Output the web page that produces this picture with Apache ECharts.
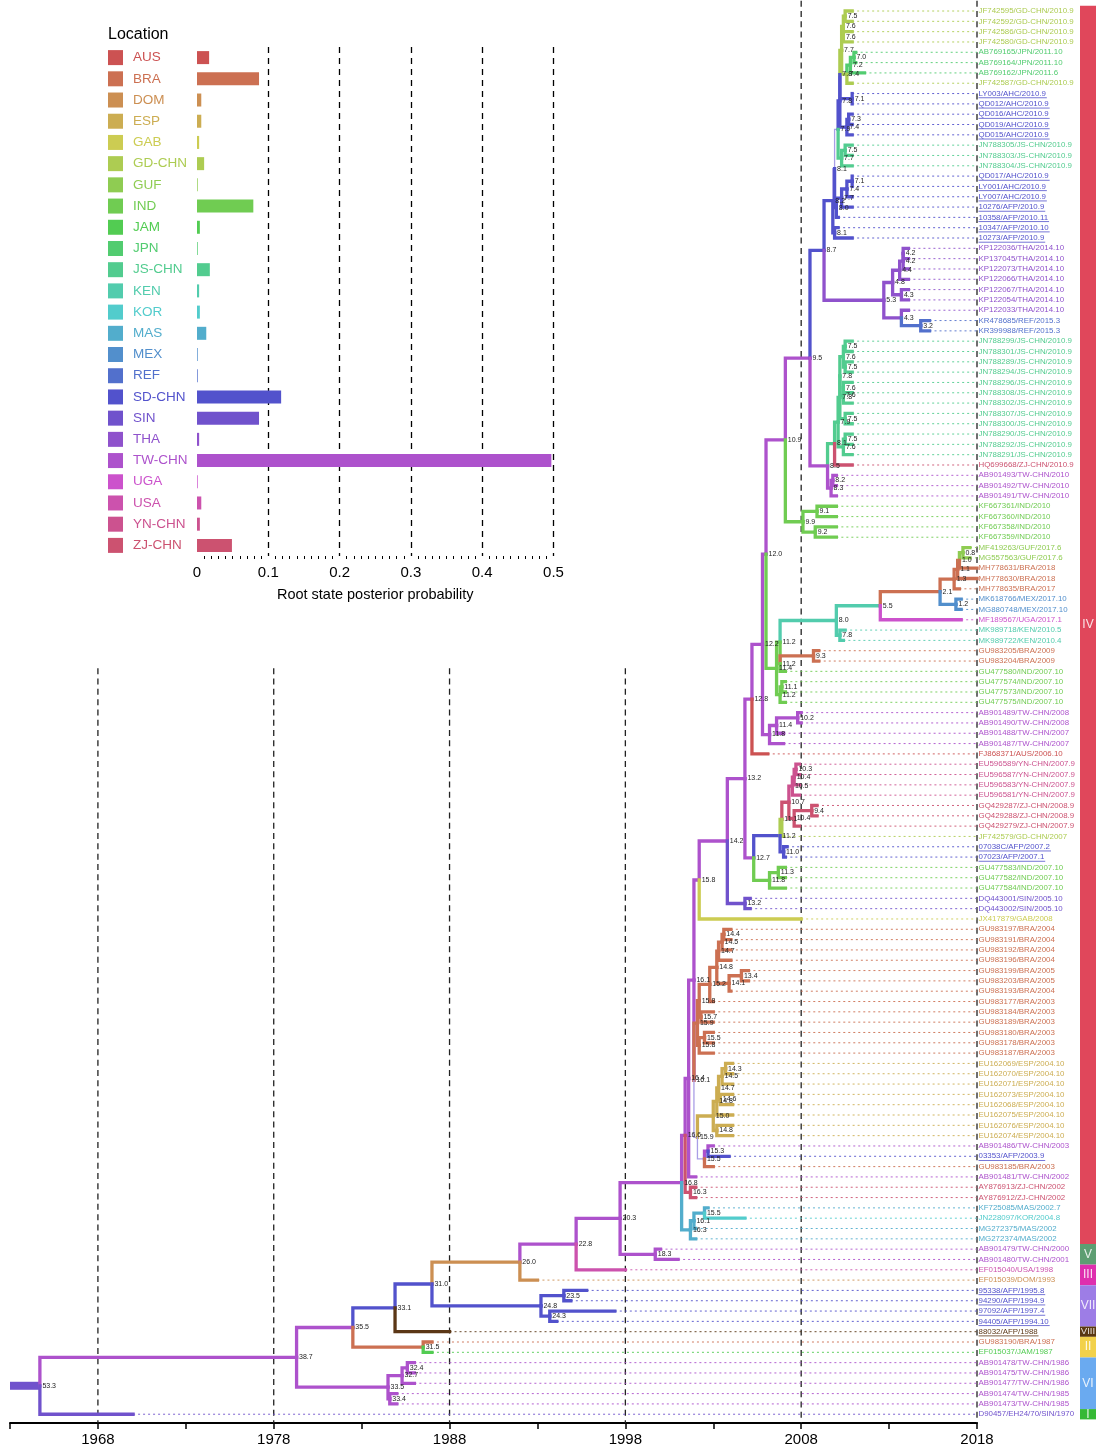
<!DOCTYPE html>
<html>
<head>
<meta charset="utf-8">
<script src="https://cdn.jsdelivr.net/npm/echarts@6/dist/echarts.min.js"></script>
<style>
html,body{margin:0;padding:0;background:#fff}
#chart{width:1098px;height:1452px}
</style>
</head>
<body>
<div id="chart"></div>
<script>
// ---- data ----
var locations = ['AUS','BRA','DOM','ESP','GAB','GD-CHN','GUF','IND','JAM','JPN','JS-CHN','KEN',
  'KOR','MAS','MEX','REF','SD-CHN','SIN','THA','TW-CHN','UGA','USA','YN-CHN','ZJ-CHN'];
var rootProb = [0.017,0.087,0.006,0.006,0.003,0.010,0.001,0.079,0.004,0.001,0.018,0.003,
  0.004,0.013,0.001,0.001,0.118,0.087,0.003,0.497,0.001,0.006,0.004,0.049];

var tipNames = [
  'JF742595/GD-CHN/2010.9','JF742592/GD-CHN/2010.9','JF742586/GD-CHN/2010.9','JF742580/GD-CHN/2010.9',
  'AB769165/JPN/2011.10','AB769164/JPN/2011.10','AB769162/JPN/2011.6','JF742587/GD-CHN/2010.9',
  'LY003/AHC/2010.9','QD012/AHC/2010.9','QD016/AHC/2010.9','QD019/AHC/2010.9','QD015/AHC/2010.9',
  'JN788305/JS-CHN/2010.9','JN788303/JS-CHN/2010.9','JN788304/JS-CHN/2010.9',
  'QD017/AHC/2010.9','LY001/AHC/2010.9','LY007/AHC/2010.9','10276/AFP/2010.9','10358/AFP/2010.11',
  '10347/AFP/2010.10','10273/AFP/2010.9',
  'KP122036/THA/2014.10','KP137045/THA/2014.10','KP122073/THA/2014.10','KP122066/THA/2014.10',
  'KP122067/THA/2014.10','KP122054/THA/2014.10','KP122033/THA/2014.10','KR478685/REF/2015.3','KR399988/REF/2015.3',
  'JN788299/JS-CHN/2010.9','JN788301/JS-CHN/2010.9','JN788289/JS-CHN/2010.9','JN788294/JS-CHN/2010.9',
  'JN788296/JS-CHN/2010.9','JN788308/JS-CHN/2010.9','JN788302/JS-CHN/2010.9','JN788307/JS-CHN/2010.9',
  'JN788300/JS-CHN/2010.9','JN788290/JS-CHN/2010.9','JN788292/JS-CHN/2010.9','JN788291/JS-CHN/2010.9',
  'HQ699668/ZJ-CHN/2010.9','AB901493/TW-CHN/2010','AB901492/TW-CHN/2010','AB901491/TW-CHN/2010',
  'KF667361/IND/2010','KF667360/IND/2010','KF667358/IND/2010','KF667359/IND/2010',
  'MF419263/GUF/2017.6','MG557563/GUF/2017.6','MH778631/BRA/2018','MH778630/BRA/2018','MH778635/BRA/2017',
  'MK618766/MEX/2017.10','MG880748/MEX/2017.10','MF189567/UGA/2017.1','MK989718/KEN/2010.5','MK989722/KEN/2010.4',
  'GU983205/BRA/2009','GU983204/BRA/2009','GU477580/IND/2007.10','GU477574/IND/2007.10',
  'GU477573/IND/2007.10','GU477575/IND/2007.10','AB901489/TW-CHN/2008','AB901490/TW-CHN/2008',
  'AB901488/TW-CHN/2007','AB901487/TW-CHN/2007','FJ868371/AUS/2006.10',
  'EU596589/YN-CHN/2007.9','EU596587/YN-CHN/2007.9','EU596583/YN-CHN/2007.9','EU596581/YN-CHN/2007.9',
  'GQ429287/ZJ-CHN/2008.9','GQ429288/ZJ-CHN/2008.9','GQ429279/ZJ-CHN/2007.9','JF742579/GD-CHN/2007',
  '07038C/AFP/2007.2','07023/AFP/2007.1','GU477583/IND/2007.10','GU477582/IND/2007.10','GU477584/IND/2007.10',
  'DQ443001/SIN/2005.10','DQ443002/SIN/2005.10','JX417879/GAB/2008',
  'GU983197/BRA/2004','GU983191/BRA/2004','GU983192/BRA/2004','GU983196/BRA/2004','GU983199/BRA/2005',
  'GU983203/BRA/2005','GU983193/BRA/2004','GU983177/BRA/2003','GU983184/BRA/2003','GU983189/BRA/2003',
  'GU983180/BRA/2003','GU983178/BRA/2003','GU983187/BRA/2003',
  'EU162069/ESP/2004.10','EU162070/ESP/2004.10','EU162071/ESP/2004.10','EU162073/ESP/2004.10',
  'EU162068/ESP/2004.10','EU162075/ESP/2004.10','EU162076/ESP/2004.10','EU162074/ESP/2004.10',
  'AB901486/TW-CHN/2003','03353/AFP/2003.9','GU983185/BRA/2003','AB901481/TW-CHN/2002',
  'AY876913/ZJ-CHN/2002','AY876912/ZJ-CHN/2002','KF725085/MAS/2002.7','JN228097/KOR/2004.8',
  'MG272375/MAS/2002','MG272374/MAS/2002','AB901479/TW-CHN/2000','AB901480/TW-CHN/2001',
  'EF015040/USA/1998','EF015039/DOM/1993','95338/AFP/1995.8','94290/AFP/1994.9','97092/AFP/1997.4',
  '94405/AFP/1994.10','88032/AFP/1988','GU983190/BRA/1987','EF015037/JAM/1987',
  'AB901478/TW-CHN/1986','AB901475/TW-CHN/1986','AB901477/TW-CHN/1986','AB901474/TW-CHN/1985',
  'AB901473/TW-CHN/1985','D90457/EH24/70/SIN/1970'
];

// tree: tips are row numbers, internal nodes are (a,b)age:STATE
var cladeGdJpn = '(((1,2)7.5:GD-CHN,(3,4)7.6:GD-CHN)7.6:GD-CHN,(((5,6)7.0:JPN,7)7.2:JPN,8)7.4:GD-CHN)7.7:GD-CHN';
var cladeNorth = '((((({GDJPN},(9,10)7.1:SD-CHN)7.8:SD-CHN,((11,12)7.3:SD-CHN,13)7.4:SD-CHN)7.8:SD-CHN,' +
  '((14,15)7.5:JS-CHN,16)7.7:JS-CHN)7.9:UNC,((((17,18)7.1:SD-CHN,19)7.4:SD-CHN,20)7.7:SD-CHN,21)8.0:SD-CHN)8.1:UNC,' +
  '(22,23)8.1:SD-CHN)8.2:SD-CHN';
var cladeTha = '(((((24,25)4.2:THA,26)4.2:THA,27)4.4:THA,(28,29)4.3:THA)4.8:THA,(30,(31,32)3.2:REF)4.3:THA)5.3:THA';
var cladeJs = '((((((33,34)7.5:JS-CHN,(35,36)7.5:JS-CHN)7.6:JS-CHN,((37,38)7.6:JS-CHN,39)7.6:JS-CHN)7.8:JS-CHN,' +
  '(40,41)7.5:JS-CHN)7.8:JS-CHN,((42,43)7.5:JS-CHN,44)7.6:JS-CHN)7.9:JS-CHN,45)8.1:JS-CHN';
var cladeAmerica = '(((((((53,54)0.8:GUF,55)1.0:BRA,56)1.1:BRA,57)1.3:BRA,(58,59)1.2:MEX)2.1:BRA,60)5.5:KEN,(61,62)7.8:KEN)8.0:KEN';
var cladeYnZj = '((((74,75)10.3:YN-CHN,76)10.4:YN-CHN,77)10.5:YN-CHN,((78,79)9.4:ZJ-CHN,80)10.4:ZJ-CHN)10.7:ZJ-CHN';
var cladeBra = '(((((((90,91)14.4:BRA,92)14.5:BRA,93)14.7:BRA,((94,95)13.4:BRA,96)14.1:BRA)14.8:BRA,97)15.2:BRA,' +
  '(98,99)15.7:BRA)15.8:BRA,((100,101)15.5:BRA,102)15.8:BRA)15.9:BRA';
var cladeEsp = '(((((103,104)14.3:ESP,105)14.5:ESP,(106,107)14.6:ESP)14.7:ESP,108)14.8:ESP,(109,110)14.8:ESP)15.0:ESP';
var cladeMas = '(((117,118)15.5:MAS,119)16.1:MAS,120)16.3:MAS';
var cladeAfp = '((125,126)23.5:SD-CHN,(127,128)24.3:SD-CHN)24.8:SD-CHN';
var cladeTw86 = '(((132,133)32.4:TW-CHN,134)32.7:TW-CHN,(135,136)33.4:TW-CHN)33.5:TW-CHN';
var stem95 = '(({NORTH},{THA})8.7:SD-CHN,({JS},((46,47)8.2:TW-CHN,48)8.3:TW-CHN)8.5:TW-CHN)9.5:TW-CHN';
var stem120 = '(({STEM95},((49,50)9.1:IND,(51,52)9.2:IND)9.9:IND)10.9:TW-CHN,(({AMERICA},((63,64)9.3:BRA,65)11.2:IND)11.2:IND,' +
  '((66,67)11.1:IND,68)11.2:IND)11.4:IND)12.0:TW-CHN';
var stem158 = '((((({STEM120},(((69,70)10.2:TW-CHN,71)11.4:TW-CHN,72)11.8:TW-CHN)12.2:TW-CHN,73)12.8:TW-CHN,' +
  '((({YNZJ},81)11.1:GD-CHN,(82,83)11.0:SD-CHN)11.2:SD-CHN,((84,85)11.3:IND,86)11.8:IND)12.7:TW-CHN)13.2:TW-CHN,' +
  '(87,88)13.2:SIN)14.2:TW-CHN,89)15.8:TW-CHN';
var stem168 = '(((({STEM158},({BRA},({ESP},((111,112)15.3:TW-CHN,113)15.5:UNC)15.9:UNC)16.1:TW-CHN)16.1:TW-CHN,114)16.4:TW-CHN,' +
  '(115,116)16.3:ZJ-CHN)16.6:TW-CHN,{MAS})16.8:TW-CHN';
var treeNewick = '(((((((({STEM168},(121,122)18.3:TW-CHN)20.3:TW-CHN,123)22.8:TW-CHN,124)26.0:DOM,{AFP})31.0:SD-CHN,' +
  '129)33.1:SD-CHN,(130,131)31.5:BRA)35.5:TW-CHN,{TW86})38.7:TW-CHN,137)53.3:SIN';

var genotypes = ['IV','V','III','VII','VIII','II','VI','I'];
var genotypeFirstTip = [1,121,123,125,129,130,132,137];
var genotypeLastTip = [120,122,124,128,129,131,136,137];

var timeTicks = [1963,1968,1973,1978,1983,1988,1993,1998,2003,2008,2013,2018];
var timeLabels = [1968,1978,1988,1998,2008,2018];
var guideYears = [1968,1978,1988,1998,2008,2018];

// ---- styles ----
var FONT = '"Liberation Sans", Arial, Helvetica, sans-serif';
var locationAlias = {AHC: 'SD-CHN', AFP: 'SD-CHN'};
var tipColorOverride = {'88032/AFP/1988': '#5b3716'};
var uncColor = '#a99ee6';
var genotypeColors = ['#e0475b','#5d9e72','#de2fae','#9d7de6','#5a3813','#f2d14b','#6aaaf0','#35b935'];

function hsvHex(h, s, v) {
  function f(n) { var k = (n + h / 60) % 6; return v - v * s * Math.max(0, Math.min(k, 4 - k, 1)); }
  function hx(c) { var t = Math.round(c * 255).toString(16); return t.length < 2 ? '0' + t : t; }
  return '#' + hx(f(5)) + hx(f(3)) + hx(f(1));
}
var locColors = locations.map(function (l, i) { return hsvHex(i * 15, 0.6, 0.8); });

function stateColor(s) {
  if (s === 'UNC') return uncColor;
  return locColors[locations.indexOf(s)];
}
function rawLoc(name) { var p = name.split('/'); return p[p.length - 2]; }
function tipColor(i) {
  var name = tipNames[i - 1];
  if (tipColorOverride[name]) return tipColorOverride[name];
  var l = rawLoc(name);
  return stateColor(locationAlias[l] || l);
}
var tipDate = tipNames.map(function (n) { return parseFloat(n.split('/').pop()); });
var present = Math.max.apply(null, tipDate);

// ---- tree ----
var newick = treeNewick;
var parts = {STEM168: stem168, STEM158: stem158, STEM120: stem120, STEM95: stem95, NORTH: cladeNorth,
  GDJPN: cladeGdJpn, THA: cladeTha, JS: cladeJs, AMERICA: cladeAmerica, YNZJ: cladeYnZj, BRA: cladeBra,
  ESP: cladeEsp, MAS: cladeMas, AFP: cladeAfp, TW86: cladeTw86};
while (newick.indexOf('{') >= 0) {
  newick = newick.replace(/\{([A-Z0-9]+)\}/g, function (m, k) { return parts[k]; });
}

function parseNewick(s) {
  var pos = 0;
  function node() {
    if (s[pos] === '(') {
      pos++;
      var kids = [node()];
      while (s[pos] === ',') { pos++; kids.push(node()); }
      pos++;
      var m = /^([0-9.]+):([A-Z-]+)/.exec(s.slice(pos));
      pos += m[0].length;
      return {kids: kids, age: +m[1], state: m[2]};
    }
    var t = /^\d+/.exec(s.slice(pos));
    pos += t[0].length;
    return {tip: +t[0]};
  }
  return node();
}
var root = parseNewick(newick);

function layout(n) {
  if (n.tip) { n.x = tipDate[n.tip - 1]; n.y = n.tip; return; }
  n.kids.forEach(layout);
  n.x = present - n.age;
  n.y = (n.kids[0].y + n.kids[n.kids.length - 1].y) / 2;
}
layout(root);

var branches = [];
var nodeLabels = [];
branches.push({px: timeTicks[0], py: root.y, cx: root.x, cy: root.y, color: stateColor(root.state), width: 8, cap: 'butt'});
function collect(n) {
  if (n.tip) return;
  nodeLabels.push({x: n.x, y: n.y, text: n.age.toFixed(1)});
  n.kids.forEach(function (c) {
    var col = c.tip ? tipColor(c.tip) : stateColor(c.state);
    var w = (!c.tip && c.state === 'UNC') ? 1.3 : 3.3;
    branches.push({px: n.x, py: n.y, cx: c.x, cy: c.y, color: col, width: w, cap: 'square'});
    collect(c);
  });
}
collect(root);

var measureCtx = document.createElement('canvas').getContext('2d');
measureCtx.font = '8px ' + FONT;

var tipRows = tipNames.map(function (n, i) { return [tipDate[i], i + 1]; });

// ---- chart ----
var chart = echarts.init(document.getElementById('chart'));

var legendRich = {};
locations.forEach(function (l, i) {
  legendRich['s' + i] = {width: 15, height: 15, backgroundColor: locColors[i]};
  legendRich['t' + i] = {color: locColors[i], fontSize: 13.5, fontFamily: FONT, padding: [0, 0, 0, 10]};
});

var option = {
  animation: false,
  backgroundColor: '#fff',
  title: {
    text: 'Location', left: 108, top: 27, padding: 0,
    textStyle: {fontSize: 16, fontWeight: 'normal', color: '#000', fontFamily: FONT}
  },
  grid: [
    {left: 10, top: 0.7, width: 967, height: 1422.3},
    {left: 197, top: 47, width: 356.5, height: 509}
  ],
  xAxis: [
    {
      gridIndex: 0, type: 'value', min: timeTicks[0], max: present,
      axisLine: {onZero: false, lineStyle: {color: '#000', width: 2}},
      axisTick: {customValues: timeTicks, length: 6, lineStyle: {color: '#000', width: 1.5}},
      axisLabel: {customValues: timeLabels, fontSize: 15, color: '#000', margin: 9, fontFamily: FONT,
        formatter: function (v) { return String(v); }},
      splitLine: {show: false}
    },
    {
      gridIndex: 1, type: 'value', min: 0, max: 0.5, interval: 0.1,
      axisLine: {lineStyle: {color: '#000', width: 2}},
      axisTick: {length: 6, lineStyle: {color: '#000', width: 1.5}},
      minorTick: {show: true, splitNumber: 10, length: 3, lineStyle: {color: '#000', width: 1}},
      axisLabel: {fontSize: 15, color: '#000', margin: 9, fontFamily: FONT,
        formatter: function (v) { return String(+v.toFixed(1)); }},
      splitLine: {show: true, showMinLine: false, lineStyle: {color: '#000', width: 1.3, type: [6, 5]}},
      name: 'Root state posterior probability', nameLocation: 'middle', nameGap: 31,
      nameTextStyle: {fontSize: 14.5, color: '#000', fontFamily: FONT}
    }
  ],
  yAxis: [
    {gridIndex: 0, type: 'value', min: 0, max: 137.85, inverse: true, show: false},
    {
      gridIndex: 1, type: 'category', data: locations, inverse: true,
      axisLine: {show: false}, axisTick: {show: false},
      axisLabel: {
        align: 'left', margin: 89, rich: legendRich,
        formatter: function (v, i) { return '{s' + i + '|}{t' + i + '|' + v + '}'; }
      }
    }
  ],
  series: [
    {
      type: 'bar', xAxisIndex: 1, yAxisIndex: 1, barWidth: 13,
      data: rootProb.map(function (v, i) { return {value: v, itemStyle: {color: locColors[i]}}; })
    },
    {
      // dashed time guides
      type: 'custom', xAxisIndex: 0, yAxisIndex: 0, z: 1, silent: true,
      data: guideYears.map(function (y) { return [y, 0]; }),
      renderItem: function (params, api) {
        var yr = api.value(0);
        var top = yr >= 2008 ? 0 : 64.7;
        var a = api.coord([yr, top]), b = api.coord([yr, 137.85]);
        return {type: 'line', shape: {x1: a[0], y1: a[1], x2: b[0], y2: b[1]},
          style: {stroke: '#222', lineWidth: 1.3, lineDash: [6, 4.3]}};
      }
    },
    {
      // dotted tip extensions
      type: 'custom', xAxisIndex: 0, yAxisIndex: 0, z: 2, silent: true,
      data: tipRows,
      renderItem: function (params, api) {
        var i = params.dataIndex + 1;
        var a = api.coord([api.value(0), i]), b = api.coord([present, i]);
        if (b[0] - a[0] < 1) return null;
        return {type: 'line', shape: {x1: a[0], y1: a[1], x2: b[0], y2: b[1]},
          style: {stroke: tipColor(i), lineWidth: 1, lineDash: [2, 3], opacity: 0.9}};
      }
    },
    {
      // branches
      type: 'custom', xAxisIndex: 0, yAxisIndex: 0, z: 3, silent: true,
      data: branches.map(function (b) { return [b.cx, b.cy]; }),
      renderItem: function (params, api) {
        var b = branches[params.dataIndex];
        var p0 = api.coord([b.px, b.py]), p1 = api.coord([b.px, b.cy]), p2 = api.coord([b.cx, b.cy]);
        return {type: 'polyline', shape: {points: [p0, p1, p2]},
          style: {stroke: b.color, lineWidth: b.width, fill: 'none', lineCap: b.cap, lineJoin: 'miter'}};
      }
    },
    {
      // node ages
      type: 'custom', xAxisIndex: 0, yAxisIndex: 0, z: 4, silent: true,
      data: nodeLabels.map(function (n) { return [n.x, n.y]; }),
      renderItem: function (params, api) {
        var p = api.coord([api.value(0), api.value(1)]);
        return {type: 'text', x: p[0] + 2.5, y: p[1],
          style: {text: nodeLabels[params.dataIndex].text, fill: '#222', fontSize: 7, fontFamily: FONT,
            align: 'left', verticalAlign: 'middle', textAlign: 'left', textVerticalAlign: 'middle'}};
      }
    },
    {
      // tip labels
      type: 'custom', xAxisIndex: 0, yAxisIndex: 0, z: 4, silent: true,
      data: tipRows,
      renderItem: function (params, api) {
        var i = params.dataIndex + 1;
        var name = tipNames[i - 1];
        var col = tipColor(i);
        var p = api.coord([present, i]);
        var kids = [{type: 'text', x: p[0] + 1.5, y: p[1],
          style: {text: name, fill: col, fontSize: 7.9, fontFamily: FONT,
            align: 'left', verticalAlign: 'middle', textAlign: 'left', textVerticalAlign: 'middle'}}];
        if (locationAlias[rawLoc(name)]) {
          var w = measureCtx.measureText(name).width;
          kids.push({type: 'line', shape: {x1: p[0] + 1.5, y1: p[1] + 4.2, x2: p[0] + 1.5 + w, y2: p[1] + 4.2},
            style: {stroke: col, lineWidth: 0.8}});
        }
        return {type: 'group', children: kids};
      }
    },
    {
      // genotype bar
      type: 'custom', xAxisIndex: 0, yAxisIndex: 0, z: 4, silent: true,
      data: genotypes.map(function (g, k) { return [present, genotypeFirstTip[k]]; }),
      renderItem: function (params, api) {
        var k = params.dataIndex;
        var a = api.coord([present, genotypeFirstTip[k] - 0.5]);
        var b = api.coord([present, genotypeLastTip[k] + 0.5]);
        var label = genotypes[k];
        return {type: 'group', children: [
          {type: 'rect', shape: {x: 1080, y: a[1], width: 16, height: b[1] - a[1]},
            style: {fill: genotypeColors[k]}},
          {type: 'text', x: 1088, y: (a[1] + b[1]) / 2,
            style: {text: label, fill: 'rgba(255,255,255,0.85)', fontSize: label.length > 3 ? 9.5 : 12,
              fontFamily: FONT, align: 'center', verticalAlign: 'middle', textAlign: 'center', textVerticalAlign: 'middle'}}
        ]};
      }
    }
  ]
};
chart.setOption(option);
</script>
</body>
</html>
